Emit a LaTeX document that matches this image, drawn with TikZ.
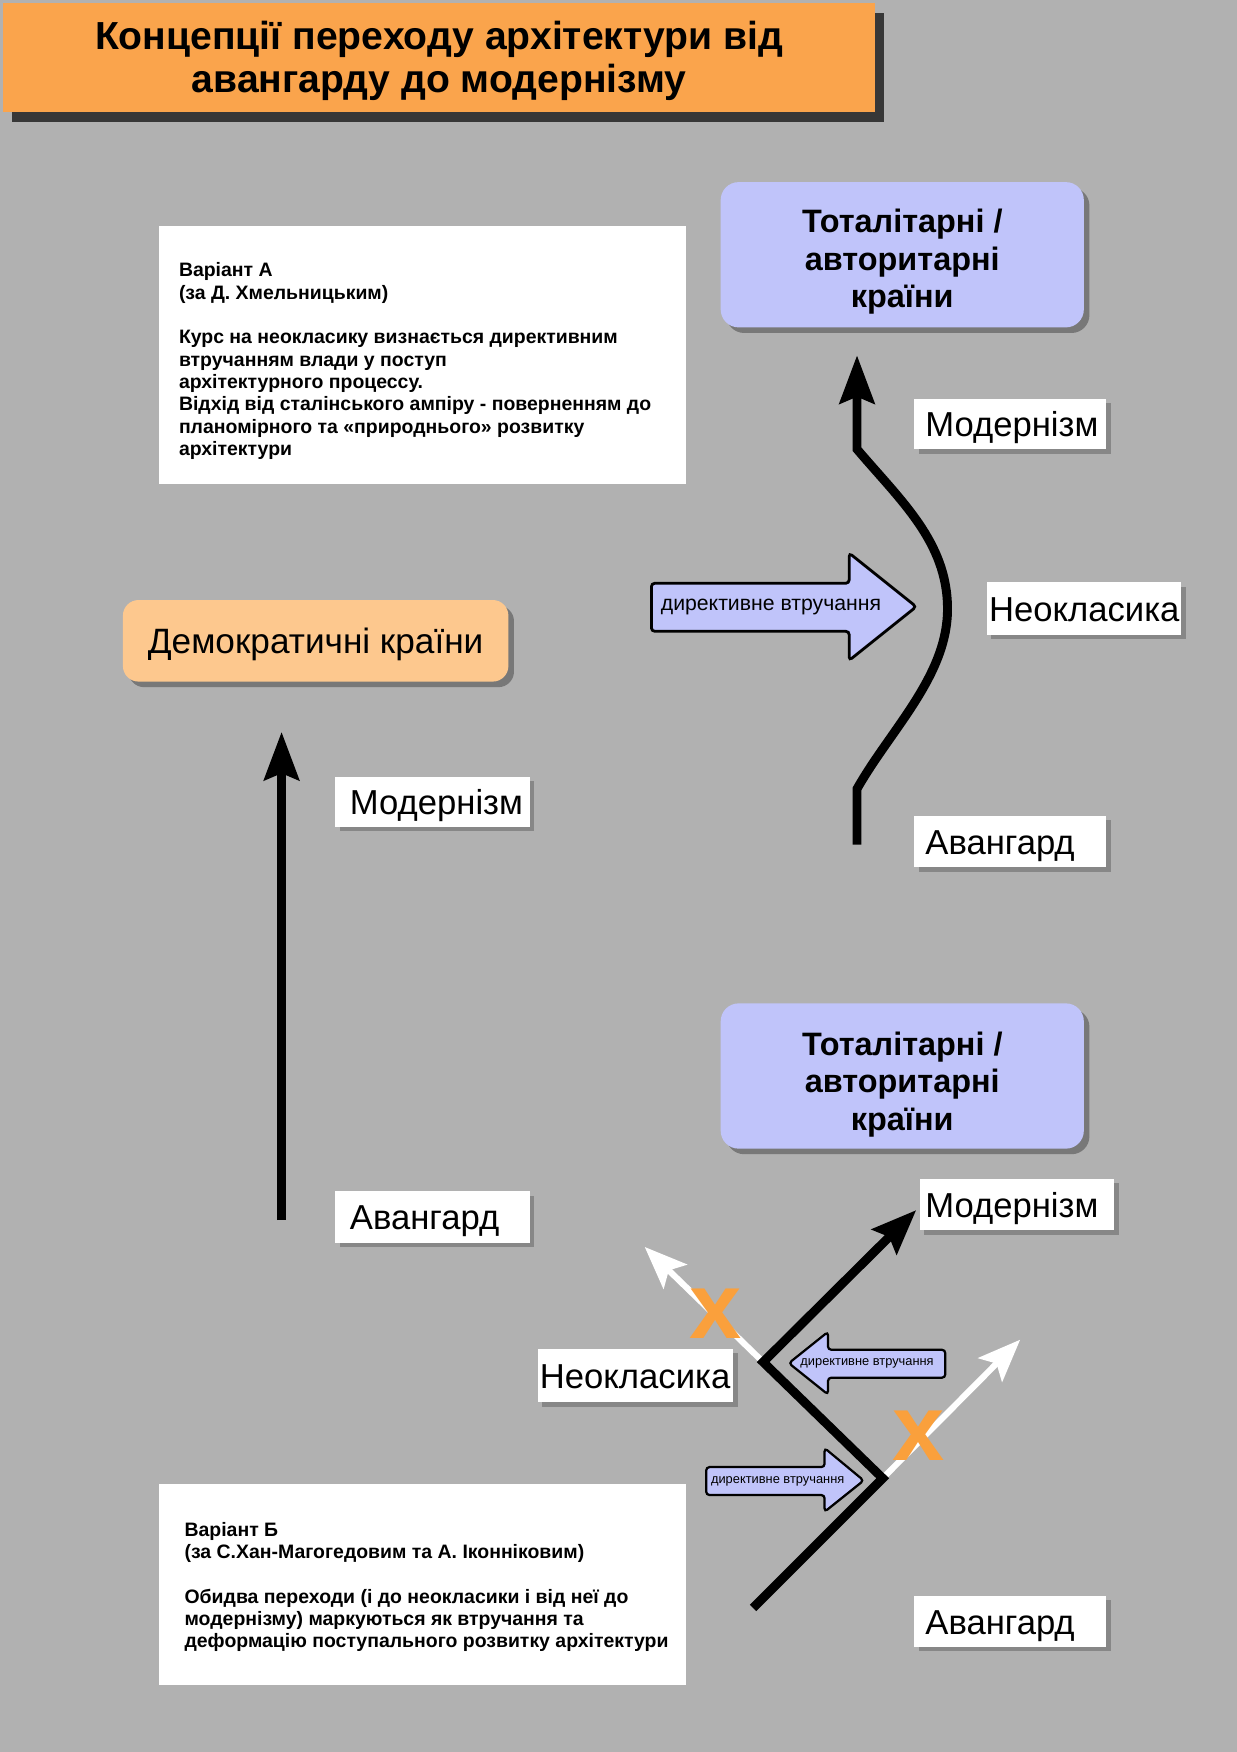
\documentclass[tikz,border=0pt]{standalone}
\usepackage{fontspec}
\setmainfont{Liberation Sans}
\usetikzlibrary{arrows.meta,shadows}
\definecolor{bg}{RGB}{177,177,177}
\definecolor{titleor}{RGB}{250,164,76}
\definecolor{demoor}{RGB}{253,200,142}
\definecolor{lav}{RGB}{192,196,250}
\definecolor{xor}{RGB}{250,160,60}
\definecolor{shgray}{RGB}{135,135,135}
\definecolor{boxsh}{RGB}{120,120,120}
\definecolor{titlesh}{RGB}{55,55,55}
\newcommand\lblt[3]{\makebox[#1pt][l]{\hspace{#2pt}\raisebox{-11.5pt}[0pt][0pt]{#3}}}
\tikzset{
  lbl/.style={fill=white, inner sep=0pt, anchor=west, font=\fontsize{31}{36}\selectfont,
     drop shadow={shadow xshift=4pt, shadow yshift=-4pt, fill=shgray, opacity=1}},
  lavbox/.style={fill=lav, rounded corners=16pt, minimum width=325pt, minimum height=130pt,
     drop shadow={shadow xshift=5pt, shadow yshift=-5pt, fill=boxsh, opacity=1}},
  lavtext/.style={align=center, inner sep=0pt, font=\bfseries\fontsize{29}{33.5}\selectfont},
  notebox/.style={fill=white, inner sep=0pt, anchor=north west},
  notetext/.style={anchor=north west, inner sep=0pt, align=left, font=\bfseries\fontsize{17.4}{20}\selectfont},
  blockarrow/.style={draw=black, fill=lav, rounded corners=3pt},
  xmark/.style={text=xor, inner sep=0pt, font=\bfseries\fontsize{84}{84}\selectfont},
  thickline/.style={line width=8pt, line join=miter},
  blacktip/.style={-{Stealth[length=43pt,width=31pt,inset=6pt]}},
  whitetip/.style={-{Stealth[length=38pt,width=30pt,inset=8pt]}},
}
\begin{document}
\begin{tikzpicture}[x=1pt,y=-1pt]
\useasboundingbox (0,0) rectangle (1107,1568);
\fill[bg] (0,0) rectangle (1107,1568);

% title
\node[fill=titleor, minimum width=780pt, minimum height=97pt, inner sep=0pt,
  drop shadow={shadow xshift=8pt, shadow yshift=-9pt, fill=titlesh, opacity=1}]
  (title) at (393,51.5) {};
\node[align=center, inner sep=0pt, font=\bfseries\fontsize{35}{39}\selectfont]
  (titletext) at (393,54.5) {Концепції переходу архітектури від\\авангарду до модернізму};

% note boxes
\node[notebox, minimum width=472pt, minimum height=231pt] (boxA) at (142,202) {};
\node[notetext] (txtA) at (160,235) {Варіант А\\(за Д. Хмельницьким)\\[20pt]Курс на неокласику визнається директивним\\втручанням влади у поступ\\архітектурного процессу.\\Відхід від сталінського ампіру - поверненням до\\планомірного та «природнього» розвитку\\архітектури};

\node[notebox, minimum width=472pt, minimum height=180pt] (boxB) at (142,1328) {};
\node[notetext] (txtB) at (165,1362) {Варіант Б\\(за С.Хан-Магогедовим та А. Іконніковим)\\[20pt]Обидва переходи (і до неокласики і від неї до\\модернізму) маркуються як втручання та\\деформацію поступального розвитку архітектури};

% country boxes
\node[lavbox] (totA) at (807.5,228) {};
\node[lavtext] (totAtext) at (807.5,234.5) {Тоталітарні /\\авторитарні\\країни};
\node[lavbox] (totB) at (807.5,963) {};
\node[lavtext] (totBtext) at (807.5,970.5) {Тоталітарні /\\авторитарні\\країни};
\node[fill=demoor, rounded corners=14pt, minimum width=345pt, minimum height=73pt,
  font=\fontsize{31.5}{36}\selectfont,
  drop shadow={shadow xshift=5pt, shadow yshift=-5pt, fill=boxsh, opacity=1}]
  (demo) at (282.5,573.5) {\raisebox{-11.5pt}[0pt][0pt]{Демократичні країни}};

% labels
\node[lbl, minimum height=45pt] (modTR) at (818,379.5) {\lblt{172}{10}{Модернізм}};
\node[lbl, minimum height=47pt] (neoR) at (883,544.5) {\lblt{174}{2}{Неокласика}};
\node[lbl, minimum height=46pt] (avTR) at (818,753) {\lblt{172}{10}{Авангард}};
\node[lbl, minimum height=45pt] (modL) at (300,717.5) {\lblt{174}{13}{Модернізм}};
\node[lbl, minimum height=46pt] (avL) at (300,1089) {\lblt{174}{13}{Авангард}};
\node[lbl, minimum height=46pt] (modBR) at (823,1078) {\lblt{174}{5}{Модернізм}};
\node[lbl, minimum height=48pt] (neoB) at (481,1231) {\lblt{175}{2}{Неокласика}};
\node[lbl, minimum height=46pt] (avBR) at (818,1451) {\lblt{172}{10}{Авангард}};

% left straight arrow
\coordinate (LAs) at (252,1092);
\coordinate (LAe) at (252,655);
\draw[thickline, blacktip] (LAs) -- (LAe);

% top-right curved arrow
\coordinate (TAs) at (767,756);
\coordinate (TAk1) at (767,706);
\coordinate (TApk) at (848,545);
\coordinate (TAk2) at (767,402);
\coordinate (TAe) at (767,318);
\draw[thickline, blacktip] (TAs) -- (TAk1) .. controls (797,653) and (848,605) .. (TApk)
   .. controls (848,485) and (806,448) .. (TAk2) -- (TAe);

% top directive arrow
\draw[blockarrow, line width=2.5pt] (583,522) -- (760,522) -- (760,495) -- (820,543) -- (760,591) -- (760,565) -- (583,565) -- cycle;
\node[font=\fontsize{19}{22}\selectfont, inner sep=0pt] (dirA) at (690,543) {директивне втручання};

% bottom zigzag
\coordinate (ZA) at (674,1439);
\coordinate (ZB) at (790,1323);
\coordinate (ZC) at (683,1219);
\coordinate (ZD) at (820,1083);
\coordinate (WA) at (577,1116);
\coordinate (WB) at (913,1199);
\draw[white, line width=5.5pt, whitetip] (ZC) -- (WA);
\draw[white, line width=5.5pt, whitetip] (ZB) -- (WB);
\node[xmark] (x1) at (640,1176) {x};
\node[xmark] (x2) at (822,1285) {x};
\draw[thickline, -{Stealth[length=40pt,width=31pt,inset=6pt]}] (ZA) -- (ZB) -- (ZC) -- (ZD);

% bottom directive arrows
\draw[blockarrow, line width=2pt] (846,1208) -- (741,1208) -- (741,1192) -- (706,1220) -- (741,1248) -- (741,1233) -- (846,1233) -- cycle;
\node[font=\fontsize{11.5}{13}\selectfont, inner sep=0pt] (dirB1) at (776,1220.5) {директивне втручання};
\draw[blockarrow, line width=2pt] (632,1313) -- (738,1313) -- (738,1296) -- (773,1325) -- (738,1353) -- (738,1338) -- (632,1338) -- cycle;
\node[font=\fontsize{11.5}{13}\selectfont, inner sep=0pt] (dirB2) at (696,1325.5) {директивне втручання};
\end{tikzpicture}
\end{document}
